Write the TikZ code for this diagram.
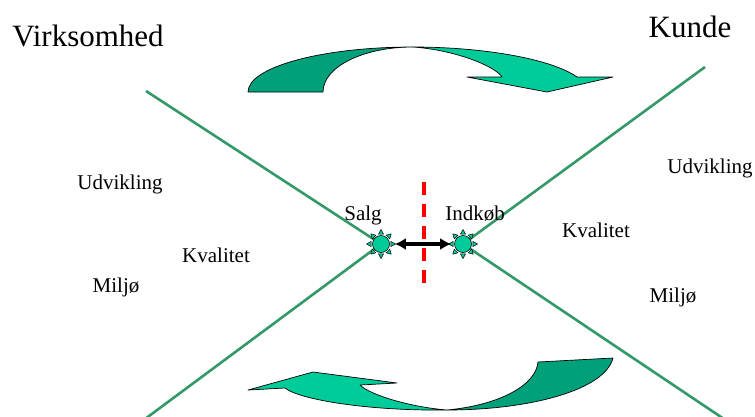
\documentclass[tikz,border=0pt]{standalone}
\usepackage{fontspec}
\setmainfont{Liberation Serif}
\usepackage{tikz}
\usetikzlibrary{arrows.meta}

\definecolor{arrowdark}{RGB}{0,160,122}
\definecolor{arrowlight}{RGB}{0,204,153}
\definecolor{linegreen}{RGB}{51,153,102}

\begin{document}
\begin{tikzpicture}[x=1pt,y=-1pt,
    bigtext/.style={anchor=base,font=\fontsize{31}{36}\selectfont},
    smalltext/.style={anchor=base,font=\fontsize{21}{24}\selectfont},
    xline/.style={linegreen,line width=2.6pt},
    cutline/.style={red,line width=4pt,dash pattern=on 13pt off 9pt},
    sun/.style={circle,draw=black,fill=arrowlight,line width=0.6pt,minimum size=17pt,inner sep=0pt},
    ray/.style={draw=black,fill=arrowlight,line width=0.5pt,line join=round},
    band/.style={draw=black,line width=0.7pt,line join=round}]
    \useasboundingbox (0,0) rectangle (755,416);

    % The X
    \coordinate (salgc) at (381,244);
    \coordinate (indkobc) at (463,244);
    \coordinate (vtop) at (146,91);
    \coordinate (vbot) at (145,419);
    \coordinate (ktop) at (705,67);
    \coordinate (kbot) at (724,419);
    \draw[xline] (vtop) -- (salgc) -- (vbot);
    \draw[xline] (ktop) -- (indkobc) -- (kbot);

    % Dividing line
    \coordinate (cuttop) at (424,182);
    \coordinate (cutbot) at (424,283);
    \draw[cutline] (cuttop) -- (cutbot);

    % Suns at the meeting points
    \node[sun] (salg) at (salgc) {};
    \node[sun] (indkob) at (indkobc) {};
    \foreach \s in {salg,indkob} {
      \foreach \a in {0,45,...,315} {
        \draw[ray,shift={(\s.center)},rotate=\a] (9.8,-2.6) -- (14.5,0) -- (9.8,2.6) -- cycle;
      }
    }
    \draw[{Latex[length=11pt,width=12pt]}-{Latex[length=11pt,width=12pt]},line width=3.4pt,
      shorten <=5pt,shorten >=3pt] (salg) -- (indkob);

    % Upper curved arrow
    \filldraw[band,fill=arrowdark] (248,92) .. controls (248,67) and (322,47) .. (413,47)
      .. controls (363,47) and (323,67) .. (323,92) -- cycle;
    \filldraw[band,fill=arrowlight] (413,47) .. controls (480,47) and (550,58) .. (577,77)
      -- (613,77) -- (547,92) -- (467,77) -- (502,77)
      .. controls (495,66) and (455,50) .. (413,47) -- cycle;

    % Lower curved arrow
    \filldraw[band,fill=arrowdark] (447,410) .. controls (530,410) and (605,390) .. (613,358)
      -- (538,362) .. controls (536,385) and (500,405) .. (447,410) -- cycle;
    \filldraw[band,fill=arrowlight] (447,410) .. controls (410,407) and (370,395) .. (360,385)
      -- (397,383) -- (313,372) -- (248,390) -- (285,388)
      .. controls (300,400) and (370,411) .. (447,410) -- cycle;

    % Labels
    \node[bigtext] (virk) at (88,46) {Virksomhed};
    \node[bigtext] (kunde) at (690,37) {Kunde};
    \foreach \n/\x/\y/\txt in {udvl/120/189/Udvikling,kvall/216/262/Kvalitet,miljl/116/292/Miljø,
        udvr/710/173/Udvikling,kvalr/596/237/Kvalitet,miljr/673/302/Miljø,
        salgtxt/363/220/Salg,indkobtxt/475/220/Indkøb} {
      \node[smalltext] (\n) at (\x,\y) {\txt};
    }
\end{tikzpicture}
\end{document}
